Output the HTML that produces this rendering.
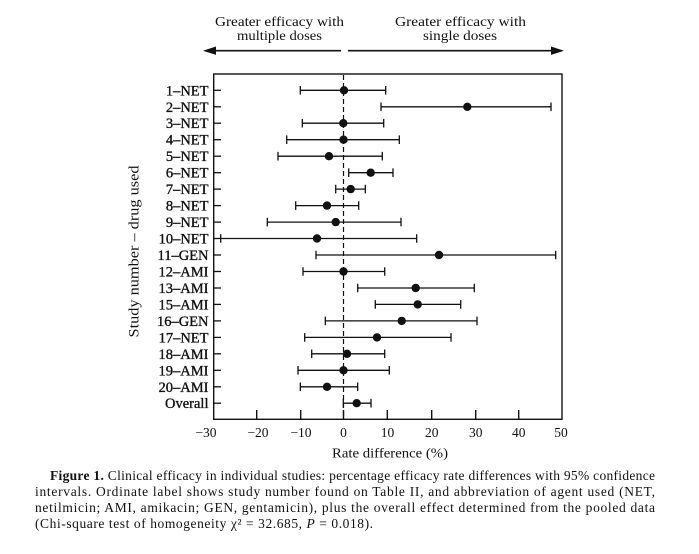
<!DOCTYPE html>
<html>
<head>
<meta charset="utf-8">
<style>
  html, body { margin: 0; padding: 0; background: #ffffff; }
  svg { display: block; }
  text { font-family: "Liberation Serif", "DejaVu Serif", serif; fill: #111; }
</style>
</head>
<body>
<svg width="699" height="554" viewBox="0 0 699 554" xmlns="http://www.w3.org/2000/svg">
  <rect x="0" y="0" width="699" height="554" fill="#fff"/>

  <!-- Top annotations -->
  <text x="279.5" y="26" font-size="14" text-anchor="middle" textLength="129" lengthAdjust="spacingAndGlyphs">Greater efficacy with</text>
  <text x="279.5" y="40" font-size="14" text-anchor="middle" textLength="85" lengthAdjust="spacingAndGlyphs">multiple doses</text>
  <text x="460.5" y="26" font-size="14" text-anchor="middle" textLength="131" lengthAdjust="spacingAndGlyphs">Greater efficacy with</text>
  <text x="460" y="40" font-size="14" text-anchor="middle" textLength="74" lengthAdjust="spacingAndGlyphs">single doses</text>

  <!-- Arrows -->
  <line x1="214" y1="50.7" x2="341" y2="50.7" stroke="#111" stroke-width="1.6"/>
  <polygon points="203,50.7 216,46.5 216,54.9" fill="#111"/>
  <line x1="348" y1="50.7" x2="553" y2="50.7" stroke="#111" stroke-width="1.6"/>
  <polygon points="564,50.7 551,46.5 551,54.9" fill="#111"/>

  <!-- Plot box -->
  <rect x="213.7" y="74" width="348.3" height="345.3" fill="none" stroke="#111" stroke-width="1.4"/>

  <!-- Zero dashed line -->
  <line x1="343.5" y1="75" x2="343.5" y2="419" stroke="#111" stroke-width="1.2" stroke-dasharray="5,3"/>

  <!-- Bottom ticks -->
  <g stroke="#111" stroke-width="1.4">
    <line x1="256.7" y1="419" x2="256.7" y2="410"/>
    <line x1="300.7" y1="419" x2="300.7" y2="410"/>
    <line x1="343.5" y1="419" x2="343.5" y2="410"/>
    <line x1="387.3" y1="419" x2="387.3" y2="410"/>
    <line x1="431.7" y1="419" x2="431.7" y2="410"/>
    <line x1="475.7" y1="419" x2="475.7" y2="410"/>
    <line x1="518.7" y1="419" x2="518.7" y2="410"/>
  </g>

  <!-- Tick labels -->
  <g font-size="13.5" text-anchor="middle">
    <text x="206" y="437">−30</text>
    <text x="258" y="437">−20</text>
    <text x="301" y="437">−10</text>
    <text x="343.5" y="437">0</text>
    <text x="387.5" y="437">10</text>
    <text x="431.7" y="437">20</text>
    <text x="475.7" y="437">30</text>
    <text x="518.7" y="437">40</text>
    <text x="561" y="437">50</text>
  </g>
  <text x="390" y="457.5" font-size="14" text-anchor="middle" textLength="116" lengthAdjust="spacingAndGlyphs">Rate difference (%)</text>

  <!-- Y axis title -->
  <text transform="translate(138.5,251.5) rotate(-90)" x="0" y="0" font-size="14.5" text-anchor="middle" textLength="172" lengthAdjust="spacingAndGlyphs">Study number – drug used</text>

  <!-- Row ticks on left axis -->
  <g stroke="#111" stroke-width="1.3">
    <line x1="213.7" y1="90.3" x2="221" y2="90.3"/>
    <line x1="213.7" y1="106.8" x2="221" y2="106.8"/>
    <line x1="213.7" y1="123.2" x2="221" y2="123.2"/>
    <line x1="213.7" y1="139.7" x2="221" y2="139.7"/>
    <line x1="213.7" y1="156.2" x2="221" y2="156.2"/>
    <line x1="213.7" y1="172.7" x2="221" y2="172.7"/>
    <line x1="213.7" y1="189.1" x2="221" y2="189.1"/>
    <line x1="213.7" y1="205.6" x2="221" y2="205.6"/>
    <line x1="213.7" y1="222.1" x2="221" y2="222.1"/>
    <line x1="213.7" y1="238.5" x2="221" y2="238.5"/>
    <line x1="213.7" y1="255.0" x2="221" y2="255.0"/>
    <line x1="213.7" y1="271.5" x2="221" y2="271.5"/>
    <line x1="213.7" y1="288.0" x2="221" y2="288.0"/>
    <line x1="213.7" y1="304.4" x2="221" y2="304.4"/>
    <line x1="213.7" y1="320.9" x2="221" y2="320.9"/>
    <line x1="213.7" y1="337.4" x2="221" y2="337.4"/>
    <line x1="213.7" y1="353.8" x2="221" y2="353.8"/>
    <line x1="213.7" y1="370.3" x2="221" y2="370.3"/>
    <line x1="213.7" y1="386.8" x2="221" y2="386.8"/>
    <line x1="213.7" y1="403.2" x2="221" y2="403.2"/>
  </g>

  <!-- Row labels -->
  <g font-size="14.5" text-anchor="end" stroke="#111" stroke-width="0.35">
    <text x="208.5" y="95.3">1–NET</text>
    <text x="208.5" y="111.8">2–NET</text>
    <text x="208.5" y="128.2">3–NET</text>
    <text x="208.5" y="144.7">4–NET</text>
    <text x="208.5" y="161.2">5–NET</text>
    <text x="208.5" y="177.7">6–NET</text>
    <text x="208.5" y="194.1">7–NET</text>
    <text x="208.5" y="210.6">8–NET</text>
    <text x="208.5" y="227.1">9–NET</text>
    <text x="208.5" y="243.5">10–NET</text>
    <text x="208.5" y="260.0">11–GEN</text>
    <text x="208.5" y="276.5">12–AMI</text>
    <text x="208.5" y="293.0">13–AMI</text>
    <text x="208.5" y="309.4">15–AMI</text>
    <text x="208.5" y="325.9">16–GEN</text>
    <text x="208.5" y="342.4">17–NET</text>
    <text x="208.5" y="358.8">18–AMI</text>
    <text x="208.5" y="375.3">19–AMI</text>
    <text x="208.5" y="391.8">20–AMI</text>
    <text x="208.5" y="408.2">Overall</text>
  </g>

  <!-- Error bars -->
  <g stroke="#111" stroke-width="1.3" fill="none">
    <path d="M300.3 90.3H385.7M300.3 86V94.6M385.7 86V94.6"/>
    <path d="M381 106.8H551M381 102.5V111.1M551 102.5V111.1"/>
    <path d="M302.3 123.2H383.7M302.3 118.9V127.5M383.7 118.9V127.5"/>
    <path d="M286.7 139.7H399.3M286.7 135.4V144M399.3 135.4V144"/>
    <path d="M278 156.2H382.3M278 151.9V160.5M382.3 151.9V160.5"/>
    <path d="M348.7 172.7H393M348.7 168.4V177M393 168.4V177"/>
    <path d="M335.7 189.1H365.3M335.7 184.8V193.4M365.3 184.8V193.4"/>
    <path d="M295.7 205.6H358.7M295.7 201.3V209.9M358.7 201.3V209.9"/>
    <path d="M267.3 222.1H401M267.3 217.8V226.4M401 217.8V226.4"/>
    <path d="M220.7 238.5H416.7M220.7 234.2V242.8M416.7 234.2V242.8"/>
    <path d="M316 255H555.7M316 250.7V259.3M555.7 250.7V259.3"/>
    <path d="M303 271.5H384.7M303 267.2V275.8M384.7 267.2V275.8"/>
    <path d="M357.7 288H474.3M357.7 283.7V292.3M474.3 283.7V292.3"/>
    <path d="M375.3 304.4H460.7M375.3 300.1V308.7M460.7 300.1V308.7"/>
    <path d="M325.3 320.9H477M325.3 316.6V325.2M477 316.6V325.2"/>
    <path d="M304.7 337.4H451M304.7 333.1V341.7M451 333.1V341.7"/>
    <path d="M311.7 353.8H384.7M311.7 349.5V358.1M384.7 349.5V358.1"/>
    <path d="M298 370.3H389.3M298 366V374.6M389.3 366V374.6"/>
    <path d="M300.3 386.8H357.7M300.3 382.5V391.1M357.7 382.5V391.1"/>
    <path d="M343.3 403.2H371M343.3 398.9V407.5M371 398.9V407.5"/>
  </g>

  <!-- Points -->
  <g fill="#111">
    <circle cx="344" cy="90.3" r="4.2"/>
    <circle cx="467.3" cy="106.8" r="4.2"/>
    <circle cx="343.3" cy="123.2" r="4.2"/>
    <circle cx="343.5" cy="139.7" r="4.2"/>
    <circle cx="329" cy="156.2" r="4.2"/>
    <circle cx="370.7" cy="172.7" r="4.2"/>
    <circle cx="350.7" cy="189.1" r="4.2"/>
    <circle cx="327" cy="205.6" r="4.2"/>
    <circle cx="335.7" cy="222.1" r="4.2"/>
    <circle cx="317" cy="238.5" r="4.2"/>
    <circle cx="439" cy="255" r="4.2"/>
    <circle cx="343.5" cy="271.5" r="4.2"/>
    <circle cx="415.7" cy="288" r="4.2"/>
    <circle cx="417.7" cy="304.4" r="4.2"/>
    <circle cx="401.7" cy="320.9" r="4.2"/>
    <circle cx="377" cy="337.4" r="4.2"/>
    <circle cx="347" cy="353.8" r="4.2"/>
    <circle cx="343.5" cy="370.3" r="4.2"/>
    <circle cx="327" cy="386.8" r="4.2"/>
    <circle cx="356.7" cy="403.2" r="4.2"/>
  </g>

  <!-- Caption -->
  <g font-size="13.5">
    <text x="50" y="480" textLength="605" lengthAdjust="spacing"><tspan font-weight="bold">Figure 1.</tspan> Clinical efficacy in individual studies: percentage efficacy rate differences with 95%  confidence</text>
    <text x="35" y="496" textLength="620" lengthAdjust="spacing">intervals. Ordinate label shows study number found on Table II, and abbreviation of agent used (NET,</text>
    <text x="35" y="512" textLength="620" lengthAdjust="spacing">netilmicin; AMI, amikacin; GEN, gentamicin), plus the overall effect determined from the pooled data</text>
    <text x="35" y="528" textLength="338" lengthAdjust="spacing">(Chi-square test of homogeneity χ² = 32.685, <tspan font-style="italic">P</tspan> = 0.018).</text>
  </g>
</svg>
</body>
</html>
